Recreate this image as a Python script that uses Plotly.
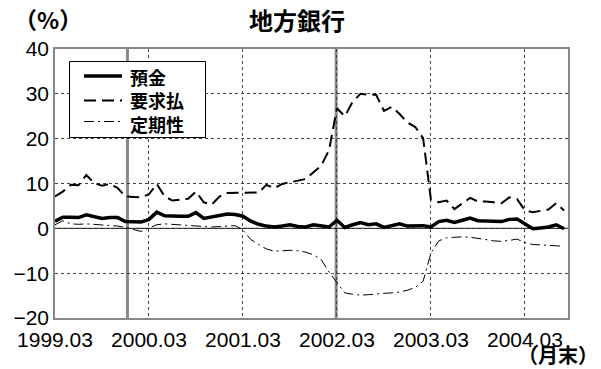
import plotly.graph_objects as go

# Month-end series, 1999.03 .. 2004.08 (year-on-year change, %)
months = [f"{1999 + (2 + k) // 12}.{(2 + k) % 12 + 1:02d}" for k in range(66)]

deposits = [1.6, 2.5, 2.5, 2.4, 3.0, 2.5, 2.2, 2.4, 2.4, 1.5, 1.4, 1.4,
            2.0, 3.6, 2.8, 2.7, 2.7, 2.7, 3.5, 2.2, 2.5, 2.9, 3.2, 3.1,
            2.7, 1.6, 0.9, 0.5, 0.3, 0.5, 0.8, 0.4, 0.3, 0.8, 0.5, 0.3,
            1.8, 0.2, 0.8, 1.3, 0.8, 1.0, 0.2, 0.6, 1.0, 0.5, 0.5, 0.6,
            0.3, 1.5, 1.8, 1.3, 1.8, 2.3, 1.7, 1.7, 1.6, 1.5, 2.0, 2.1,
            0.9, -0.1, 0.1, 0.3, 0.8, -0.1]

demand = [7.1, 8.2, 9.7, 9.6, 11.9, 10.1, 9.5, 9.9, 9.0, 7.1, 7.0, 6.9,
          7.6, 9.9, 7.1, 6.2, 6.4, 6.6, 8.2, 5.8, 5.3, 7.1, 7.9, 7.9,
          7.9, 7.9, 8.0, 9.7, 8.9, 9.9, 10.3, 10.6, 11.0, 12.5, 14.0, 17.5,
          26.8, 25.0, 28.2, 30.0, 29.8, 29.8, 26.2, 27.1, 25.5, 23.6, 22.6, 20.1,
          6.4, 5.8, 6.2, 4.3, 5.5, 6.8, 6.0, 6.0, 5.8, 5.6, 6.9, 6.5,
          4.0, 3.6, 3.9, 4.2, 5.6, 4.0]

time_dep = [0.8, 1.7, 1.0, 0.9, 1.0, 0.9, 0.8, 0.7, 0.5, 0.2, -0.3, -0.7,
            0.1, 0.8, 1.0, 0.9, 0.8, 0.6, 0.5, 0.4, 0.3, 0.4, 0.5, 0.6,
            -0.4, -2.5, -3.6, -4.6, -5.1, -5.0, -4.9, -5.0, -5.3, -5.9, -7.0, -9.8,
            -12.0, -14.4, -14.7, -14.9, -14.8, -14.6, -14.5, -14.4, -14.2, -13.8, -13.2, -11.8,
            -5.5, -2.8, -2.1, -2.0, -1.9, -2.0, -2.2, -2.5, -2.8, -2.9, -2.7, -2.4,
            -3.2, -3.6, -3.7, -3.8, -4.0, -4.0]

series_names = ["預金", "要求払", "定期性"]
tick_labels = ["1999.03", "2000.03", "2001.03", "2002.03", "2003.03", "2004.03"]
# Event markers (month offsets from 1999.03)
events = [9.25, 35.9]

x = list(range(len(months)))
tick_vals = [months.index(t) for t in tick_labels]

LATIN = "Liberation Sans, Arial, sans-serif"
CJK = "Noto Sans CJK JP, sans-serif"

W, H = 601, 369
M = dict(l=55, r=33, t=49, b=51)
PW, PH = W - M["l"] - M["r"], H - M["t"] - M["b"]


def px(xp):
    """Horizontal pixel position -> paper fraction."""
    return (xp - M["l"]) / PW


def py(yp):
    """Vertical pixel position (from top) -> paper fraction."""
    return (H - M["b"] - yp) / PH


styles = [
    dict(color="black", width=3.5),
    dict(color="black", width=2, dash="12px,6px"),
    dict(color="black", width=1, dash="10px,4px,2px,4px"),
]

fig = go.Figure()
for name, values, style in zip(series_names, [deposits, demand, time_dep], styles):
    fig.add_trace(go.Scatter(x=x, y=values, name=name, mode="lines",
                             line=style, customdata=months, showlegend=False,
                             hovertemplate="%{customdata}: %{y}%<extra>" + name + "</extra>"))

shapes = []
for ev in events:
    shapes.append(dict(type="line", xref="x", yref="paper", x0=ev, x1=ev, y0=0, y1=1,
                       line=dict(color="#8a8a8a", width=3), layer="below"))

# zero line
shapes.append(dict(type="line", xref="paper", yref="y", x0=0, x1=1, y0=0, y1=0,
                   line=dict(color="black", width=1), layer="below"))

# legend box with line keys
shapes.append(dict(type="rect", xref="paper", yref="paper",
                   x0=px(69.5), x1=px(205.5), y0=py(137.5), y1=py(61.5),
                   line=dict(color="black", width=1), fillcolor="white", layer="above"))
for row_y, style in zip([76, 100.5, 121.5], styles):
    shapes.append(dict(type="line", xref="paper", yref="paper",
                       x0=px(84), x1=px(122), y0=py(row_y), y1=py(row_y),
                       line=style, layer="above"))

annotations = [
    dict(text="<b>" + "<br>".join(series_names) + "</b>", xref="paper", yref="paper",
         x=px(128), y=py(100.5), xanchor="left", yanchor="middle", align="left",
         showarrow=False, font=dict(family=CJK, size=18, color="black")),
    dict(text="<b>（%）</b>", xref="paper", yref="paper", x=px(48), y=py(19),
         xanchor="center", yanchor="middle", showarrow=False,
         font=dict(family=CJK, size=23, color="black")),
    dict(text="<b>（月末）</b>", xref="paper", yref="paper", x=px(600), y=py(355),
         xanchor="right", yanchor="middle", showarrow=False,
         font=dict(family=CJK, size=20, color="black")),
]

fig.update_layout(
    width=W, height=H,
    margin=M,
    paper_bgcolor="white", plot_bgcolor="white",
    showlegend=False,
    title=dict(text="<b>地方銀行</b>", x=297 / W, xanchor="center", xref="container",
               y=1 - 22 / H, yanchor="middle",
               font=dict(family=CJK, size=24, color="black")),
    shapes=shapes,
    annotations=annotations,
)

fig.update_xaxes(range=[0, 65.5], tickmode="array", tickvals=tick_vals, ticktext=tick_labels,
                 showgrid=True, gridcolor="#444", griddash="3px,3px", gridwidth=1,
                 showline=True, linecolor="#888", linewidth=1.5, mirror=True,
                 zeroline=False, ticks="", ticklabelstandoff=2,
                 tickfont=dict(family=LATIN, size=21, color="black"))
fig.update_yaxes(range=[-20, 40], dtick=10, tick0=0,
                 showgrid=True, gridcolor="#444", griddash="3px,3px", gridwidth=1,
                 showline=True, linecolor="#888", linewidth=1.5, mirror=True,
                 zeroline=False, ticks="",
                 tickfont=dict(family=LATIN, size=21, color="black"))

fig.write_html("out.html")
